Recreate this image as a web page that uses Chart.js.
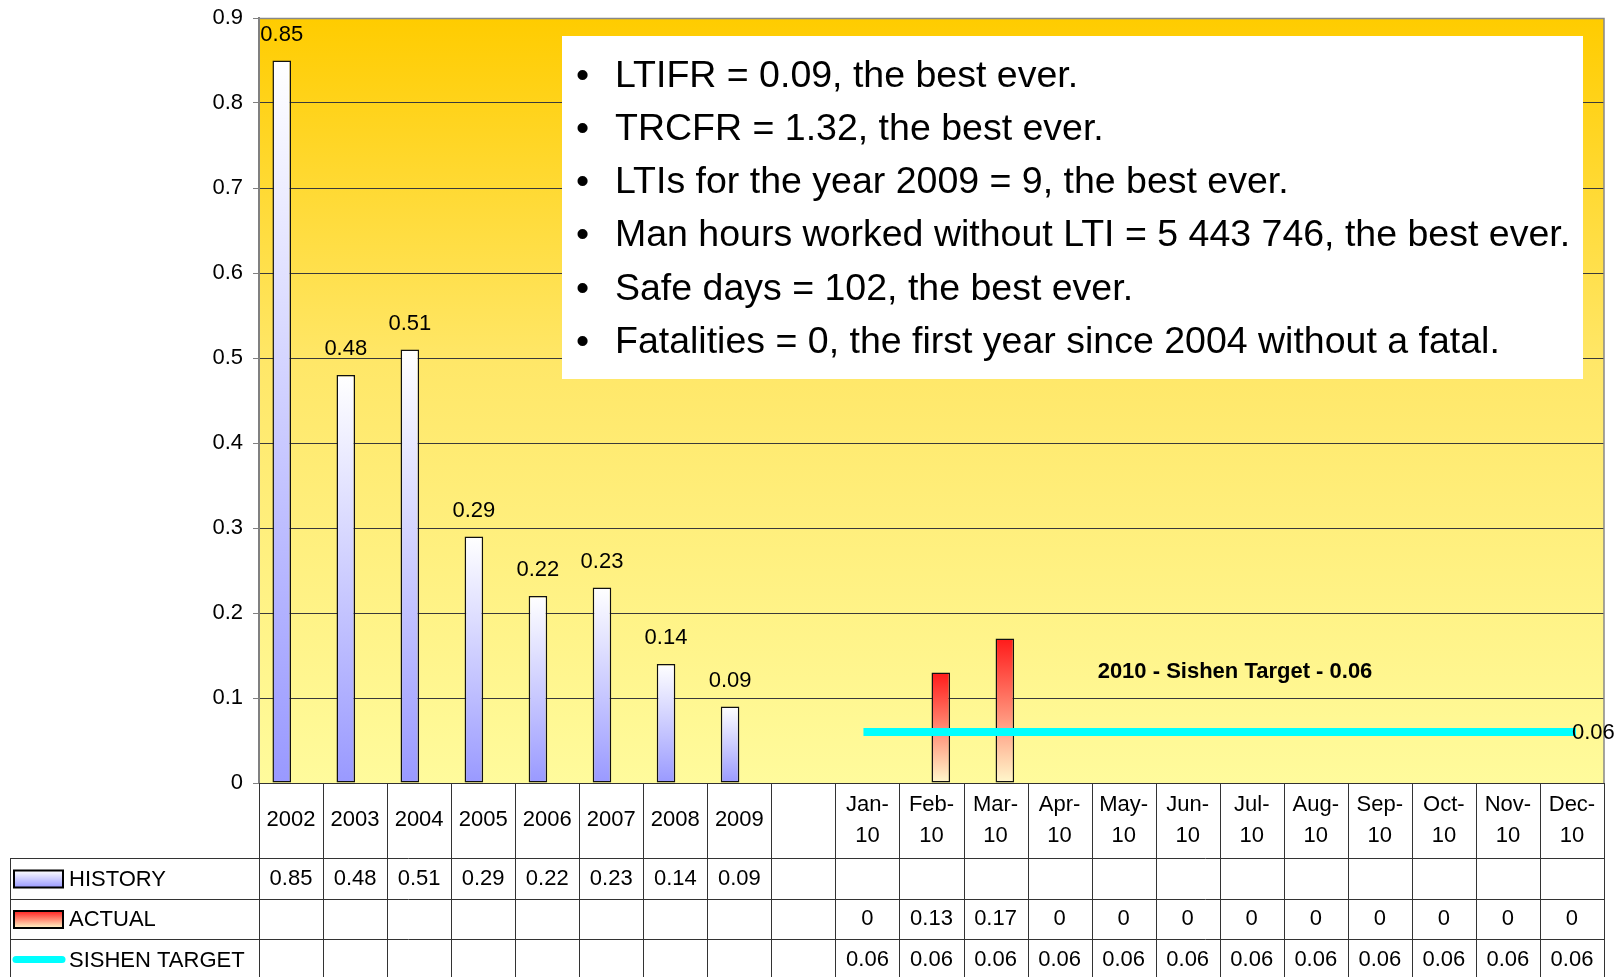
<!DOCTYPE html>
<html>
<head>
<meta charset="utf-8">
<script src="https://cdn.jsdelivr.net/npm/chart.js@4/dist/chart.umd.min.js"></script>
<style>
  body { margin: 0; background: #fff; }
  canvas { display: block; }
</style>
</head>
<body>
<canvas id="ltifrChart" width="1622" height="977"></canvas>
<script>
// chart data
const categories = ['2002', '2003', '2004', '2005', '2006', '2007', '2008', '2009', '',
    'Jan-10', 'Feb-10', 'Mar-10', 'Apr-10', 'May-10', 'Jun-10',
    'Jul-10', 'Aug-10', 'Sep-10', 'Oct-10', 'Nov-10', 'Dec-10'];
const historyValues = [0.85, 0.48, 0.51, 0.29, 0.22, 0.23, 0.14, 0.09, null,
    null, null, null, null, null, null, null, null, null, null, null, null];
const actualValues = [null, null, null, null, null, null, null, null, null,
    0, 0.13, 0.17, 0, 0, 0, 0, 0, 0, 0, 0, 0];
const targetValues = [null, null, null, null, null, null, null, null, null,
    0.06, 0.06, 0.06, 0.06, 0.06, 0.06, 0.06, 0.06, 0.06, 0.06, 0.06, 0.06];
const yTickLabels = ['0', '0.1', '0.2', '0.3', '0.4', '0.5', '0.6', '0.7', '0.8', '0.9'];
const seriesNames = ['HISTORY', 'ACTUAL', 'SISHEN TARGET'];
const targetNote = '2010 - Sishen Target - 0.06';
const notes = [
    'LTIFR = 0.09, the best ever.',
    'TRCFR = 1.32, the best ever.',
    'LTIs for the year 2009 = 9, the best ever.',
    'Man hours worked without LTI = 5 443 746, the best ever.',
    'Safe days = 102, the best ever.',
    'Fatalities = 0, the first year since 2004 without a fatal.'
];

const FONT = "'Liberation Sans', Arial, sans-serif";
Chart.defaults.font.family = FONT;
Chart.defaults.color = '#000';

// vertical gradient per bar, from its top down to zero
function barGradient(topColor, bottomColor) {
    return function (context) {
        if (context.type !== 'data') return topColor;
        const chart = context.chart;
        const y = chart.scales.y;
        const v = context.raw;
        if (!y || v == null) return 'rgba(0,0,0,0)';
        const top = y.getPixelForValue(v);
        const bottom = y.getPixelForValue(0);
        if (!isFinite(top) || !isFinite(bottom)) return topColor;
        const g = chart.ctx.createLinearGradient(0, top, 0, bottom + 0.01);
        g.addColorStop(0, topColor);
        g.addColorStop(1, bottomColor);
        return g;
    };
}

function swatchGradient(ctx, y0, y1, c0, c1) {
    const g = ctx.createLinearGradient(0, y0, 0, y1);
    g.addColorStop(0, c0);
    g.addColorStop(1, c1);
    return g;
}

const decorPlugin = {
    id: 'decor',
    beforeDraw(chart) {
        const { ctx, chartArea: a } = chart;
        ctx.save();
        const g = ctx.createLinearGradient(0, a.top, 0, a.bottom);
        g.addColorStop(0, '#FFCC00');
        g.addColorStop(0.45, '#FFE768');
        g.addColorStop(1, '#FFFB9C');
        ctx.fillStyle = g;
        ctx.fillRect(a.left, a.top, a.right - a.left, a.bottom - a.top);
        ctx.restore();
    },
    beforeDatasetsDraw(chart) {
        // white notes box over the grid
        const ctx = chart.ctx;
        ctx.save();
        ctx.fillStyle = '#fff';
        ctx.fillRect(562, 36, 1021, 343);
        ctx.fillStyle = '#000';
        ctx.font = '37.5px ' + FONT;
        ctx.textBaseline = 'alphabetic';
        notes.forEach((line, i) => {
            const y = 86.5 + i * 53.3;
            ctx.fillText('\u2022', 576, y);
            ctx.fillText(line, 615, y);
        });
        ctx.restore();
    },
    afterDraw(chart) {
        const { ctx, chartArea: a } = chart;
        const xs = chart.scales.x;
        const catW = xs.getPixelForValue(1) - xs.getPixelForValue(0);
        ctx.save();

        // plot frame top/right
        ctx.strokeStyle = '#888';
        ctx.lineWidth = 1.5;
        ctx.beginPath();
        ctx.moveTo(a.left, a.top + 0.5);
        ctx.lineTo(a.right, a.top + 0.5);
        ctx.lineTo(a.right, a.bottom);
        ctx.stroke();

        // bar value labels (history)
        ctx.fillStyle = '#000';
        ctx.font = '22px ' + FONT;
        ctx.textAlign = 'center';
        ctx.textBaseline = 'alphabetic';
        const histMeta = chart.getDatasetMeta(0);
        histMeta.data.forEach((bar, i) => {
            if (historyValues[i] == null) return;
            ctx.fillText(String(historyValues[i]), bar.x, bar.y - 20);
        });

        // label at the end of the target line
        const lineMeta = chart.getDatasetMeta(2);
        const last = lineMeta.data[lineMeta.data.length - 1];
        ctx.textAlign = 'left';
        ctx.textBaseline = 'middle';
        ctx.fillText(String(targetValues[targetValues.length - 1]), last.x, last.y + 1);

        // target annotation
        ctx.font = 'bold 22px ' + FONT;
        ctx.textAlign = 'center';
        ctx.textBaseline = 'alphabetic';
        ctx.fillText(targetNote, 1235, 678);

        // data table under the plot
        const top = a.bottom;
        const rowY = [858, 899, 939, 980];
        const leftX = 10;
        ctx.strokeStyle = '#333';
        ctx.lineWidth = 1;
        ctx.beginPath();
        ctx.moveTo(a.left, top + 0.5);
        ctx.lineTo(a.right, top + 0.5);
        for (let i = 0; i <= categories.length; i++) {
            const x = Math.round(xs.getPixelForValue(0) - catW / 2 + i * catW) + 0.5;
            ctx.moveTo(x, top);
            ctx.lineTo(x, 977);
        }
        rowY.slice(0, 3).forEach(y => {
            ctx.moveTo(leftX, y + 0.5);
            ctx.lineTo(a.right, y + 0.5);
        });
        ctx.moveTo(leftX + 0.5, rowY[0]);
        ctx.lineTo(leftX + 0.5, 977);
        ctx.stroke();

        // category header
        ctx.fillStyle = '#000';
        ctx.font = '22px ' + FONT;
        ctx.textAlign = 'center';
        ctx.textBaseline = 'middle';
        categories.forEach((c, i) => {
            const x = xs.getPixelForValue(i);
            const dash = c.indexOf('-');
            if (dash > 0) {
                ctx.fillText(c.slice(0, dash + 1), x, 805);
                ctx.fillText(c.slice(dash + 1), x, 836);
            } else if (c) {
                ctx.fillText(c, x, 820);
            }
        });

        // rows of values
        const rows = [historyValues, actualValues, targetValues];
        rows.forEach((vals, r) => {
            const cy = (rowY[r] + rowY[r + 1]) / 2;
            vals.forEach((v, i) => {
                if (v == null) return;
                ctx.fillText(String(v), xs.getPixelForValue(i), cy);
            });
        });

        // legend keys in the first column
        ctx.textAlign = 'left';
        seriesNames.forEach((name, r) => {
            const cy = (rowY[r] + rowY[r + 1]) / 2;
            if (r < 2) {
                const y0 = cy - 8, y1 = cy + 9;
                ctx.fillStyle = r === 0
                    ? swatchGradient(ctx, y0, y1, '#FFFFFF', '#9999FF')
                    : swatchGradient(ctx, y0, y1, '#FF2020', '#FFF8C8');
                ctx.fillRect(14, y0, 49, y1 - y0);
                ctx.strokeStyle = '#000';
                ctx.lineWidth = 2;
                ctx.strokeRect(14, y0, 49, y1 - y0);
            } else {
                ctx.strokeStyle = '#00FFFF';
                ctx.lineWidth = 7;
                ctx.lineCap = 'round';
                ctx.beginPath();
                ctx.moveTo(16, cy);
                ctx.lineTo(62, cy);
                ctx.stroke();
            }
            ctx.fillStyle = '#000';
            ctx.fillText(name, 69, cy + 1);
        });

        ctx.restore();
    }
};

const ctx = document.getElementById('ltifrChart').getContext('2d');
new Chart(ctx, {
    type: 'bar',
    data: {
        labels: categories,
        datasets: [{
            label: seriesNames[0],
            data: historyValues,
            backgroundColor: barGradient('#FFFFFF', '#9999FF'),
            borderColor: '#111',
            borderWidth: 1.5,
            borderSkipped: false,
            categoryPercentage: 0.58,
            barPercentage: 1,
            order: 1
        }, {
            label: seriesNames[1],
            data: actualValues,
            backgroundColor: barGradient('#FF1A1A', '#FFF8CC'),
            borderColor: '#111',
            borderWidth: 1.5,
            borderSkipped: false,
            categoryPercentage: 0.58,
            barPercentage: 1,
            order: 1
        }, {
            type: 'line',
            label: seriesNames[2],
            data: targetValues,
            borderColor: '#00FFFF',
            borderWidth: 8,
            borderCapStyle: 'square',
            pointRadius: 0,
            fill: false,
            order: 0
        }]
    },
    options: {
        responsive: false,
        animation: false,
        layout: {
            padding: { top: 18, right: 18, left: 0, bottom: 0 }
        },
        plugins: {
            legend: { display: false },
            tooltip: { enabled: false }
        },
        scales: {
            x: {
                ticks: { display: false },
                grid: { display: false },
                border: { display: false },
                afterFit(scale) { scale.height = 194; }
            },
            y: {
                min: 0,
                max: 0.9,
                ticks: {
                    stepSize: 0.1,
                    padding: 10,
                    font: { size: 22 },
                    color: '#000',
                    callback: (value, index) => yTickLabels[index]
                },
                grid: { color: '#3a3a3a', lineWidth: 1, tickLength: 6, tickColor: '#808080' },
                border: { display: true, color: '#808080', width: 2 },
                afterFit(scale) {
                    scale.width = 259;
                    scale.paddingTop = 0;
                    scale.paddingBottom = 0;
                }
            }
        }
    },
    plugins: [decorPlugin]
});
</script>
</body>
</html>
